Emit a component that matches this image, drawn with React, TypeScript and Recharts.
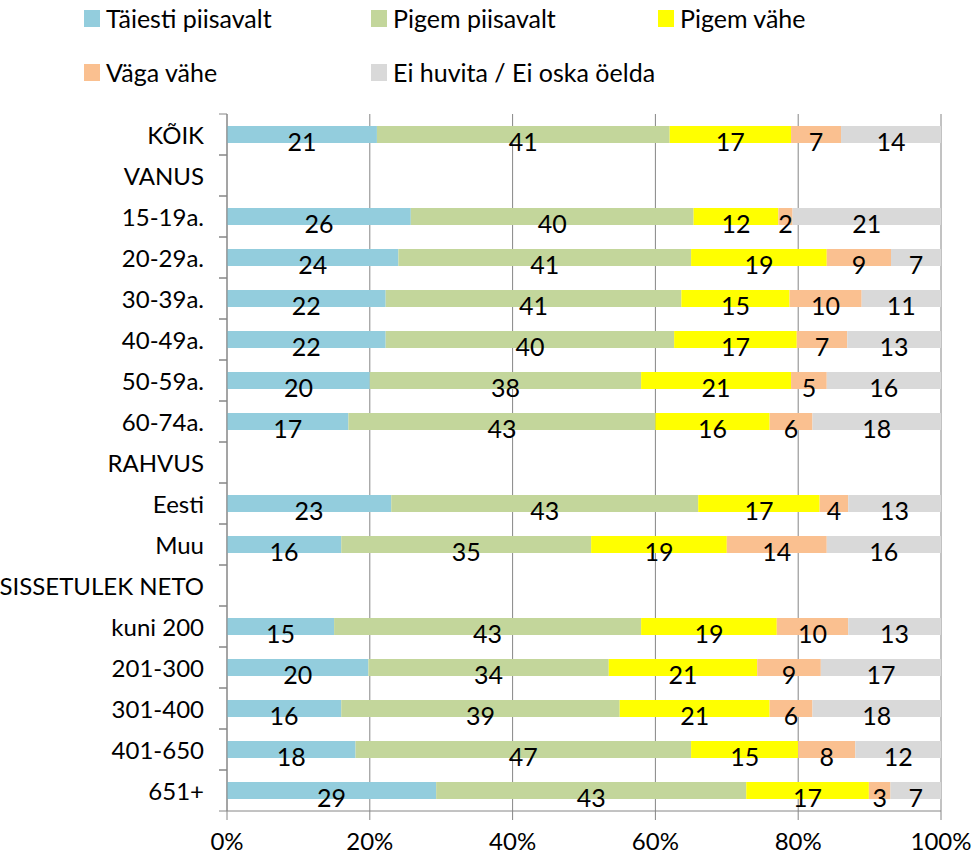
import React from "react";
import { BarChart, Bar, XAxis, YAxis, CartesianGrid, Legend, LabelList } from "recharts";

// Row labels (header rows carry no values)
const categories = [
  "KÕIK", "VANUS", "15-19a.", "20-29a.", "30-39a.", "40-49a.", "50-59a.", "60-74a.",
  "RAHVUS", "Eesti", "Muu", "SISSETULEK NETO",
  "kuni 200", "201-300", "301-400", "401-650", "651+",
];

const taiestiPiisavalt = [21, null, 26, 24, 22, 22, 20, 17, null, 23, 16, null, 15, 20, 16, 18, 29];
const pigemPiisavalt = [41, null, 40, 41, 41, 40, 38, 43, null, 43, 35, null, 43, 34, 39, 47, 43];
const pigemVahe = [17, null, 12, 19, 15, 17, 21, 16, null, 17, 19, null, 19, 21, 21, 15, 17];
const vagaVahe = [7, null, 2, 9, 10, 7, 5, 6, null, 4, 14, null, 10, 9, 6, 8, 3];
const eiHuvita = [14, null, 21, 7, 11, 13, 16, 18, null, 13, 16, null, 13, 17, 18, 12, 7];

const seriesKeys = ["s1", "s2", "s3", "s4", "s5"];
const seriesNames = ["Täiesti piisavalt", "Pigem piisavalt", "Pigem vähe", "Väga vähe", "Ei huvita / Ei oska öelda"];
const seriesColors = ["#93CDDD", "#C3D69B", "#FFFF00", "#FAC090", "#D9D9D9"];
const seriesValues = [taiestiPiisavalt, pigemPiisavalt, pigemVahe, vagaVahe, eiHuvita];

const xTicks = [0, 0.2, 0.4, 0.6, 0.8, 1];

const data = categories.map((name, i) => {
  const row: Record<string, any> = { name };
  seriesKeys.forEach((k, s) => {
    row[k] = seriesValues[s][i];
  });
  return row;
});

const FONT = "Lato, 'Liberation Sans', sans-serif";
const AXIS_GRAY = "#868686";

// custom legend, two rows like the Excel original
const renderLegend = () => (
  <div style={{ position: "relative", width: 976, height: 100, fontFamily: FONT, fontSize: 25, color: "#000" }}>
    {seriesNames.map((n, i) => (
      <div
        key={n}
        style={{
          position: "absolute",
          left: 84 + (i % 3) * 287,
          top: 4 + Math.floor(i / 3) * 54,
          display: "flex",
          alignItems: "center",
          height: 28,
          whiteSpace: "nowrap",
        }}
      >
        <span style={{ display: "inline-block", width: 16, height: 17, background: seriesColors[i], marginRight: 6 }} />
        <span>{n}</span>
      </div>
    ))}
  </div>
);

// y tick: label plus tick marks on category boundaries
const CategoryTick = (props: any) => {
  const { x, y, payload } = props;
  const half = payload && payload.offset ? payload.offset : 20.5;
  const axisX = x + 15 + 8;
  return (
    <g>
      <line x1={axisX - 8} x2={axisX} y1={y - half} y2={y - half} stroke={AXIS_GRAY} />
      <line x1={axisX - 8} x2={axisX} y1={y + half} y2={y + half} stroke={AXIS_GRAY} />
      <text x={x} y={y} textAnchor="end" dominantBaseline="central" fontFamily={FONT} fontSize={24} fill="#000">
        {payload.value}
      </text>
    </g>
  );
};

const renderValue = (p: any) => {
  const { x, y, width, height, value } = p;
  if (value == null) return null;
  return (
    <text
      x={x + width / 2}
      y={y + height / 2 + 6}
      textAnchor="middle"
      dominantBaseline="central"
      fontFamily={FONT}
      fontSize={25}
      fill="#000"
    >
      {value}
    </text>
  );
};

export default function App() {
  return (
    <div style={{ position: "absolute", left: 0, top: 0, width: 976, height: 856, background: "#fff" }}>
      <BarChart
        width={976}
        height={856}
        data={data}
        layout="vertical"
        stackOffset="expand"
        barSize={17}
        margin={{ top: 14, right: 35, left: 0, bottom: 0 }}
      >
        <CartesianGrid horizontal={false} stroke={AXIS_GRAY} verticalValues={xTicks} />
        <XAxis
          type="number"
          domain={[0, 1]}
          ticks={xTicks}
          tickFormatter={(v: number) => `${Math.round(v * 100)}%`}
          stroke={AXIS_GRAY}
          tickSize={9}
          tickMargin={13}
          height={45}
          tick={{ fontFamily: FONT, fontSize: 24, fill: "#000" }}
        />
        <YAxis
          type="category"
          dataKey="name"
          width={227}
          stroke={AXIS_GRAY}
          tickLine={false}
          tickSize={8}
          tickMargin={15}
          interval={0}
          tick={<CategoryTick />}
        />
        <Legend verticalAlign="top" align="left" content={renderLegend} wrapperStyle={{ top: 0, left: 0 }} />
        {seriesKeys.map((k, i) => (
          <Bar key={k} dataKey={k} name={seriesNames[i]} stackId="a" fill={seriesColors[i]} isAnimationActive={false}>
            <LabelList dataKey={k} content={renderValue} />
          </Bar>
        ))}
      </BarChart>
    </div>
  );
}
